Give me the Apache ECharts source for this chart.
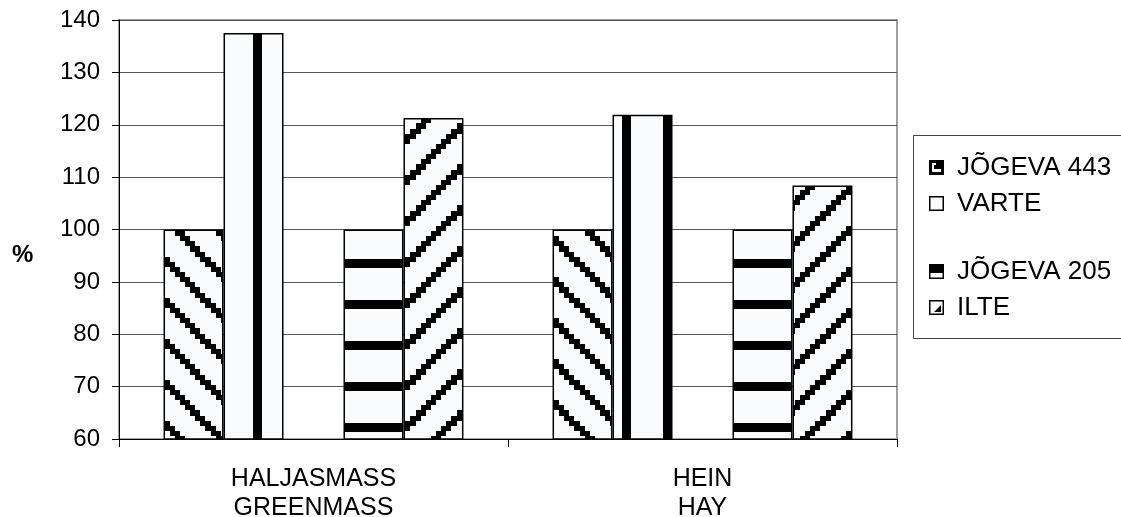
<!DOCTYPE html>
<html>
<head>
<meta charset="utf-8">
<script src="https://cdn.jsdelivr.net/npm/echarts@6/dist/echarts.min.js"></script>
<style>
  html, body { margin: 0; padding: 0; background: #fff; }
  #chart { position: absolute; left: 0; top: 0; width: 1121px; height: 517px; }
</style>
</head>
<body>
<div id="chart"></div>
<script>
// Relative yield, % of standard variety
const categories = ['HALJASMASS\nGREENMASS', 'HEIN\nHAY'];
const seriesNames = ['JÕGEVA 443', 'VARTE', 'JÕGEVA 205', 'ILTE'];
const jogeva443 = [100, 100];
const varte = [137.5, 121.9];
const jogeva205 = [100, 100];
const ilte = [121.3, 108.4];
const yMin = 60, yMax = 140, yStep = 10;

const FONT = '"Liberation Sans", Arial, sans-serif';
const PAPER = '#fafbfd';
const P = 41; // pattern period in px (8 coarse cells)

function cell(v) { return Math.floor(v * 8 / P); }
function mod(a, n) { return ((a % n) + n) % n; }

function makePattern(test) {
  const c = document.createElement('canvas');
  c.width = P; c.height = P;
  const ctx = c.getContext('2d');
  ctx.fillStyle = PAPER;
  ctx.fillRect(0, 0, P, P);
  ctx.fillStyle = '#000';
  for (let y = 0; y < P; y++) {
    for (let x = 0; x < P; x++) {
      if (test(x, y)) ctx.fillRect(x, y, 1, 1);
    }
  }
  return { image: c, repeat: 'repeat' };
}

const fillDown = makePattern((x, y) => { const d = mod(cell(x) - cell(y), 8); return d === 5 || d === 6; });
const fillVert = makePattern((x, y) => x >= 7 && x < 16);
const fillHoriz = makePattern((x, y) => y >= 13 && y < 22);
const fillUp = makePattern((x, y) => { const d = mod(cell(x) + cell(y), 8); return d === 1 || d === 2; });

// small legend swatches
function makeIcon(draw) {
  const c = document.createElement('canvas');
  c.width = 15; c.height = 15;
  const ctx = c.getContext('2d');
  ctx.fillStyle = PAPER;
  ctx.fillRect(0, 0, 15, 15);
  ctx.fillStyle = '#000';
  draw(ctx);
  ctx.strokeStyle = '#000';
  ctx.lineWidth = 1.5;
  ctx.strokeRect(0.75, 0.75, 13.5, 13.5);
  return 'image://' + c.toDataURL();
}
const iconDown = makeIcon(ctx => {
  ctx.fillRect(0, 0, 15, 15);
  ctx.fillStyle = PAPER;
  ctx.fillRect(3, 3, 4, 4);
  ctx.fillRect(3, 7, 4, 5);
  ctx.fillRect(7, 9, 5, 3);
  ctx.fillStyle = '#000';
  ctx.fillRect(5, 5, 4, 4);
});
const iconVert = makeIcon(() => {});
const iconHoriz = makeIcon(ctx => { ctx.fillRect(0, 0, 15, 9); });
const iconUp = makeIcon(ctx => {
  ctx.beginPath();
  ctx.moveTo(12, 5); ctx.lineTo(12, 12); ctx.lineTo(5, 12); ctx.closePath();
  ctx.fill();
});

const chart = echarts.init(document.getElementById('chart'), null, { renderer: 'canvas' });

function barSeries(name, data, fill) {
  return {
    name: name,
    type: 'bar',
    data: data,
    barGap: '0%',
    barCategoryGap: '22.9%',
    itemStyle: { color: fill, borderColor: '#000', borderWidth: 1.5 },
    emphasis: { disabled: true }
  };
}

function legendAt(name, icon, centerY) {
  return {
    data: [{ name: name, icon: icon }],
    orient: 'vertical',
    left: 929,
    top: centerY - 7.5,
    padding: 0,
    itemWidth: 15,
    itemHeight: 15,
    selectedMode: false,
    textStyle: { fontFamily: FONT, fontSize: 26, color: '#000', lineHeight: 15, padding: [0, 0, 0, 8] }
  };
}

chart.setOption({
  animation: false,
  backgroundColor: '#fff',
  grid: {
    left: 119, right: 224, top: 20, bottom: 78,
    outerBoundsMode: 'none',
    containLabel: false,
    show: true, borderColor: '#a0a0a0', borderWidth: 2, backgroundColor: 'transparent'
  },
  xAxis: {
    type: 'category',
    data: categories,
    axisLine: { lineStyle: { color: '#000', width: 1 } },
    axisTick: { show: true, length: 8, lineStyle: { color: '#000' } },
    axisLabel: { fontFamily: FONT, fontSize: 25, color: '#000', margin: 26, lineHeight: 29 }
  },
  yAxis: {
    type: 'value',
    min: yMin, max: yMax, interval: yStep,
    axisLine: { show: true, lineStyle: { color: '#000', width: 1 } },
    axisTick: { show: true, length: 7, lineStyle: { color: '#000' } },
    axisLabel: { fontFamily: FONT, fontSize: 24, color: '#000', margin: 19 },
    splitLine: { show: true, lineStyle: { color: '#555', width: 1 } }
  },
  legend: [
    legendAt(seriesNames[0], iconDown, 162),
    legendAt(seriesNames[1], iconVert, 198),
    legendAt(seriesNames[2], iconHoriz, 266),
    legendAt(seriesNames[3], iconUp, 302)
  ],
  graphic: [{
    type: 'rect',
    shape: { x: 913.5, y: 135.5, width: 240, height: 203 },
    style: { fill: 'transparent', stroke: '#444', lineWidth: 1 },
    silent: true
  }, {
    // y-axis unit
    type: 'text',
    left: 12,
    top: 243,
    style: { text: '%', font: 'bold 24px ' + FONT, fill: '#000' },
    silent: true
  }],
  series: [
    barSeries(seriesNames[0], jogeva443, fillDown),
    barSeries(seriesNames[1], varte, fillVert),
    { name: 'gap', type: 'bar', data: [], barGap: '0%', barCategoryGap: '22.9%' },
    barSeries(seriesNames[2], jogeva205, fillHoriz),
    barSeries(seriesNames[3], ilte, fillUp)
  ]
});
</script>
</body>
</html>
